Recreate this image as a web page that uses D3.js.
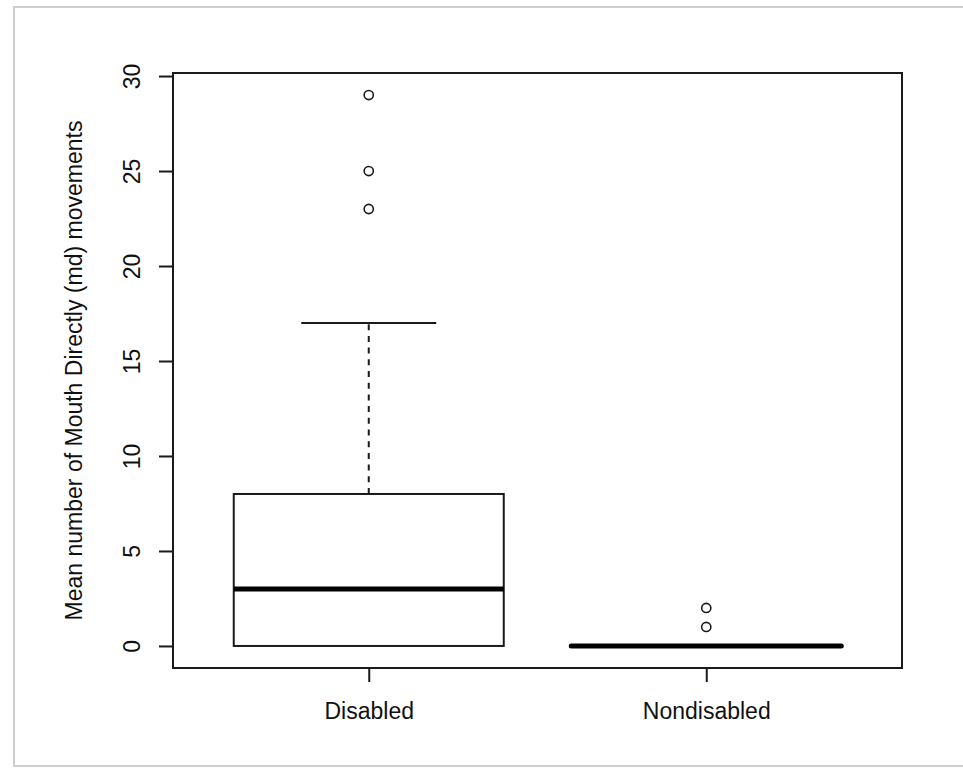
<!DOCTYPE html>
<html>
<head>
<meta charset="utf-8">
<script src="https://cdn.jsdelivr.net/npm/d3@7"></script>
<style>
  html, body { margin: 0; padding: 0; background: #fff; }
  text { font-family: "Liberation Sans", Arial, sans-serif; fill: #111; }
</style>
</head>
<body>
<div id="chart"></div>
<script>
// box statistics per group
const groups = ["Disabled", "Nondisabled"];
const q1 = [0, 0];
const median = [3, 0];
const q3 = [8, 0];
const whiskerLow = [0, 0];
const whiskerHigh = [17, 0];
const outliers = [[29, 25, 23], [2, 1]];
const yTicks = [0, 5, 10, 15, 20, 25, 30];
const yTitle = "Mean number of Mouth Directly (md) movements";

const width = 963;
const height = 768;
const plot = {left: 173, right: 902, top: 73, bottom: 668};
const ink = "#1a1a1a";

const svg = d3.select("#chart").append("svg")
  .attr("width", width)
  .attr("height", height)
  .attr("font-size", 23);

// grey frame around the figure
svg.append("path")
  .attr("d", `M${width},7 H14 V766 H${width}`)
  .attr("fill", "none")
  .attr("stroke", "#cfcfcf")
  .attr("stroke-width", 2);

// R style ranges: groups at 1..n with 4% padding
const x = d3.scaleLinear()
  .domain([0.42, 2.58])
  .range([plot.left, plot.right]);
const y = d3.scaleLinear()
  .domain([-1.16, 30.16])
  .range([plot.bottom, plot.top]);

const boxHalf = 0.4;
const capHalf = 0.2;

const g = svg.append("g");

groups.forEach((name, i) => {
  const cx = x(i + 1);
  const x0 = x(i + 1 - boxHalf);
  const x1 = x(i + 1 + boxHalf);

  // whiskers
  [[q3[i], whiskerHigh[i]], [whiskerLow[i], q1[i]]].forEach(([a, b]) => {
    if (a === b) return;
    g.append("line")
      .attr("x1", cx).attr("x2", cx)
      .attr("y1", y(a)).attr("y2", y(b))
      .attr("stroke", ink)
      .attr("stroke-width", 2)
      .attr("stroke-dasharray", "6,5.7");
  });
  [whiskerHigh[i], whiskerLow[i]].forEach(v => {
    if (v === q3[i] && v === q1[i]) return;
    if (v === q1[i] || v === q3[i]) return;
    g.append("line")
      .attr("x1", x(i + 1 - capHalf)).attr("x2", x(i + 1 + capHalf))
      .attr("y1", y(v)).attr("y2", y(v))
      .attr("stroke", ink)
      .attr("stroke-width", 2);
  });

  // box
  if (q3[i] > q1[i]) {
    g.append("rect")
      .attr("x", x0)
      .attr("y", y(q3[i]))
      .attr("width", x1 - x0)
      .attr("height", y(q1[i]) - y(q3[i]))
      .attr("fill", "none")
      .attr("stroke", ink)
      .attr("stroke-width", 2);
  }

  // median
  g.append("line")
    .attr("x1", x0).attr("x2", x1)
    .attr("y1", y(median[i])).attr("y2", y(median[i]))
    .attr("stroke", "#000")
    .attr("stroke-width", 5)
    .attr("stroke-linecap", q3[i] > q1[i] ? "butt" : "round");

  // outliers
  g.selectAll(null)
    .data(outliers[i])
    .join("circle")
      .attr("cx", cx)
      .attr("cy", d => y(d))
      .attr("r", 4.6)
      .attr("fill", "none")
      .attr("stroke", ink)
      .attr("stroke-width", 1.6);
});

// plot box
svg.append("rect")
  .attr("x", plot.left)
  .attr("y", plot.top)
  .attr("width", plot.right - plot.left)
  .attr("height", plot.bottom - plot.top)
  .attr("fill", "none")
  .attr("stroke", ink)
  .attr("stroke-width", 2);

// y axis
const yAxis = svg.append("g")
  .attr("transform", `translate(${plot.left},0)`)
  .call(d3.axisLeft(y).tickValues(yTicks).tickSize(14).tickPadding(0).tickFormat(d3.format("d")));
yAxis.select(".domain").remove();
yAxis.selectAll(".tick line").attr("stroke", ink).attr("stroke-width", 2);
yAxis.selectAll(".tick text")
  .attr("x", 0)
  .attr("dy", null)
  .attr("text-anchor", "middle")
  .attr("font-size", 23)
  .attr("transform", "translate(-33,0) rotate(-90)")
  .attr("fill", "#111");

// x axis
const xAxis = svg.append("g")
  .attr("transform", `translate(0,${plot.bottom})`)
  .call(d3.axisBottom(x).tickValues([1, 2]).tickSize(14).tickPadding(0)
    .tickFormat(d => groups[d - 1]));
xAxis.select(".domain").remove();
xAxis.selectAll(".tick line").attr("stroke", ink).attr("stroke-width", 2);
xAxis.selectAll(".tick text")
  .attr("y", 51)
  .attr("dy", null)
  .attr("font-size", 23)
  .attr("fill", "#111");

// y axis title
svg.append("text")
  .attr("transform", `translate(82,${(plot.top + plot.bottom) / 2}) rotate(-90)`)
  .attr("text-anchor", "middle")
  .text(yTitle);
</script>
</body>
</html>
